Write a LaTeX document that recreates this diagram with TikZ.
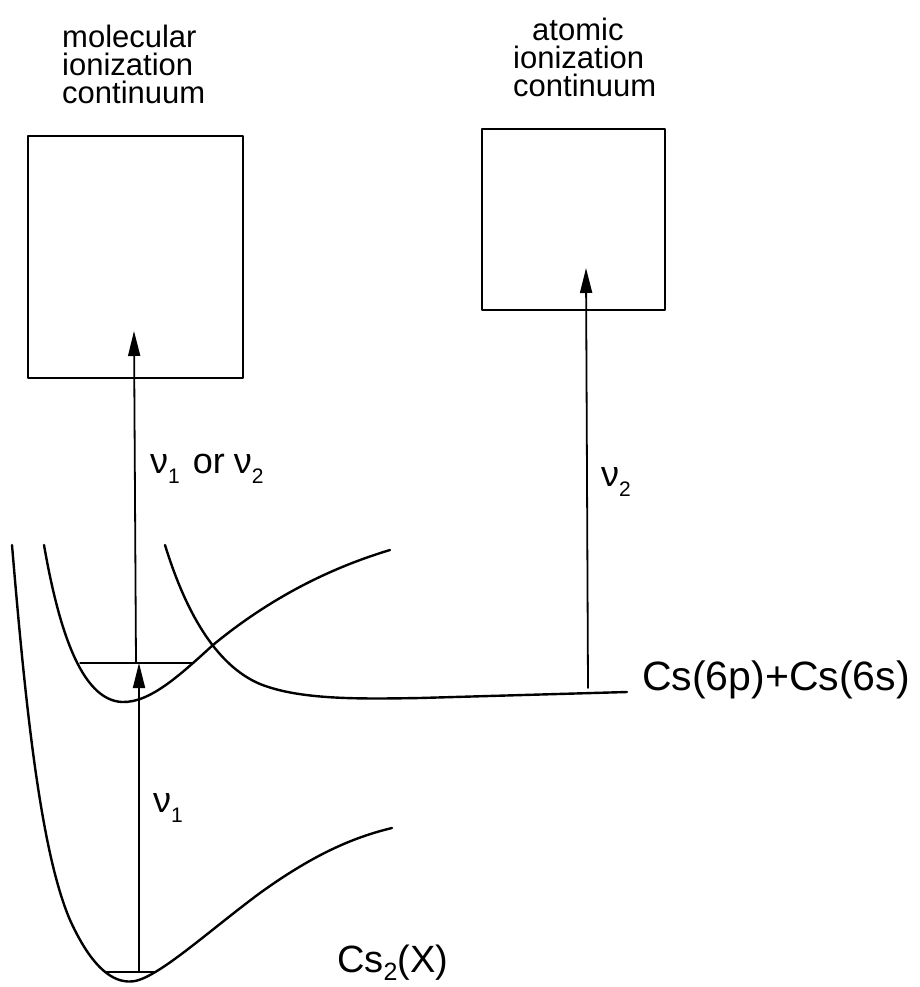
\documentclass[tikz,border=0pt]{standalone}
\usepackage{fontspec}
\setmainfont{Liberation Sans}
\usetikzlibrary{arrows.meta}
\newcommand{\nusb}[1]{ν\raisebox{-0.28em}{\fontsize{21}{21}\selectfont #1}}
\begin{document}
\begin{tikzpicture}[x=1pt,y=-1pt, line cap=round, line join=round,
  curve/.style={line width=2.4pt},
  boxline/.style={draw, line width=1.8pt, inner sep=0pt, anchor=north west},
  level/.style={line width=1.5pt},
  uparrow/.style={line width=1.8pt,-{Triangle[length=25pt,width=12pt]}},
  lab/.style={font=\fontsize{31}{28}\selectfont, inner sep=0pt, anchor=north west, align=left},
  nulab/.style={font=\fontsize{36}{36}\selectfont, inner sep=0pt, anchor=base west},
  big/.style={font=\fontsize{41}{41}\selectfont, inner sep=0pt, anchor=base west}]
\useasboundingbox (0,0) rectangle (919,987);
\fill[white] (0,0) rectangle (919,987);

% continuum boxes
\node[boxline, minimum width=215pt, minimum height=242pt] (molbox) at (27,135) {};
\node[boxline, minimum width=183pt, minimum height=181pt] (atbox) at (481,128) {};

% box labels
\node[lab] (mlab) at (62,25) {molecular\\ionization\\continuum};
\node[lab] (alab) at (513,18) {\hspace*{19pt}atomic\\ionization\\continuum};

% ground state curve
\draw[curve] (12,545) .. controls (25,700) and (40,850) .. (70,920)
  .. controls (95,975) and (118,984) .. (135,981)
  .. controls (160,976) and (210,930) .. (260,893)
  .. controls (310,857) and (350,838) .. (392,828);
% bound excited curve
\draw[curve] (44,545) .. controls (58,625) and (80,700) .. (122,702)
  .. controls (150,703) and (180,675) .. (213,645)
  .. controls (270,598) and (330,568) .. (390,550);
% repulsive curve to asymptote
\draw[curve] (165,545) .. controls (185,610) and (215,665) .. (260,684)
  .. controls (300,700) and (360,699) .. (420,698) -- (627,692);

% vibrational levels
\draw[level] (105,972) -- (155,972);
\draw[level] (80,663) -- (192,663);

% transitions
\coordinate (g0) at (139,971);
\coordinate (e0) at (139,663);
\coordinate (e1) at (136,663);
\coordinate (i1) at (134,331);
\coordinate (s0) at (588,688);
\coordinate (s1) at (586,268);
\draw[uparrow] (g0) -- (e0);
\draw[uparrow] (e1) -- (i1);
\draw[uparrow] (s0) -- (s1);

% photon labels
\node[nulab] (nu12) at (150,473) {\nusb{1}\hspace{13pt}or\hspace{9pt}\nusb{2}};
\node[nulab] (nu2) at (601,486) {\nusb{2}};
\node[nulab] (nu1) at (153,812) {\nusb{1}};

% state labels
\node[big] (asym) at (642,690) {Cs(6p)+Cs(6s)};
\node[big, font=\fontsize{38}{38}\selectfont] (gs) at (337,972) {Cs\raisebox{-0.22em}{\fontsize{25}{25}\selectfont 2}(X)};
\end{tikzpicture}
\end{document}
